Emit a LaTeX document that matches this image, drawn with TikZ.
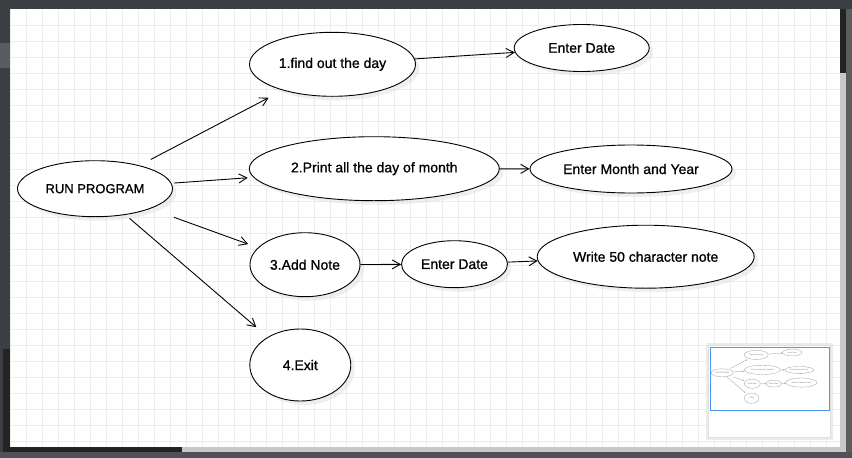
\documentclass[tikz,border=0pt]{standalone}
\usepackage{fontspec}
\setmainfont{Liberation Sans}
\newfontfamily\casefont{Liberation Sans}[FakeBold=0.9]
\usepackage{tikz}
\usetikzlibrary{shapes.geometric, shadows}
\usetikzlibrary{arrows.meta}
\definecolor{uibar}{HTML}{3B3F44}
\definecolor{uidark}{HTML}{232323}
\definecolor{uiscroll}{HTML}{C8C8C8}
\definecolor{uiside}{HTML}{5C5C5C}
\definecolor{gridline}{HTML}{ECECEC}
\definecolor{mapblue}{HTML}{4A96F0}
\tikzstyle{usecase}=[ellipse,draw=black,line width=0.9pt,fill=white,inner sep=0pt,
  font=\casefont\fontsize{14}{16}\selectfont,
  drop shadow={shadow xshift=4pt,shadow yshift=-4pt,fill=black!12}]
\tikzstyle{smallcase}=[font=\casefont\fontsize{13}{15}\selectfont]
\tikzstyle{flowarrow}=[-{Straight Barb[length=8pt,width=9pt]},line width=0.9pt]
% scale of the gaps (1 on the canvas, smaller in the overview)
\def\sk{1}
\newcommand{\usecasediagram}{%
  \node[usecase, smallcase, minimum width=155, minimum height=56] (run) at (95,188.7) {RUN PROGRAM};
  \node[usecase, minimum width=166, minimum height=64] (find) at (332.5,64.3) {1.find out the day};
  \node[usecase, minimum width=135, minimum height=47] (date1) at (581.7,48) {Enter Date};
  \node[usecase, minimum width=250, minimum height=64] (print) at (374.3,168.7) {2.Print all the day of month};
  \node[usecase, minimum width=202, minimum height=48] (monthyear) at (631,169) {Enter Month and Year};
  \node[usecase, minimum width=110, minimum height=64] (note) at (305,264.7) {3.Add Note};
  \node[usecase, minimum width=106, minimum height=47] (date2) at (454.5,264.2) {Enter Date};
  \node[usecase, minimum width=217, minimum height=63] (write) at (645.7,256.7) {Write 50 character note};
  \node[usecase, minimum width=101, minimum height=72] (exit) at (300.3,365) {4.Exit};

  \path[flowarrow]
    (run) edge [shorten <={12.7pt*\sk}, shorten >={16pt*\sk}] (find)
    (run) edge [shorten <={2.3pt*\sk}, shorten >={5.7pt*\sk}] (print)
    (run) edge [shorten <={25pt*\sk}, shorten >={10.3pt*\sk}] (note)
    (run) edge [shorten <={5.3pt*\sk}, shorten >={15pt*\sk}] (exit);

  \path[flowarrow]
    (find) edge (date1)
    (print) edge (monthyear)
    (note) edge (date2)
    (date2) edge (write);
}

\begin{document}
\begin{tikzpicture}[x=1pt,y=-1pt]
  \useasboundingbox (0,0) rectangle (852,458);

  % editor frame
  \fill[uibar] (0,0) rectangle (852,458);
  \fill[uibar!85!white] (0,43) rectangle (10,68);
  \fill[uidark] (3,349) rectangle (10,452);
  \fill[white] (10,9) rectangle (840,447);
  \foreach \gx in {0,...,51}
    \draw[gridline, line width=0.8pt] ({10.7+16*\gx},9) -- ++(0,438);
  \foreach \gy in {1,...,27}
    \draw[gridline, line width=0.8pt] (10,{9+16*\gy}) -- ++(830,0);

  % scroll bars
  \fill[uidark] (840,9) rectangle (846,73);
  \fill[uiscroll] (840,73) rectangle (846,447);
  \fill[uiside] (846,9) rectangle (852,452);
  \fill[uidark] (10,447) rectangle (182,452);
  \fill[uiscroll] (182,447) rectangle (846,452);
  \fill[uibar!90!white] (0,452) rectangle (852,458);

  \usecasediagram

  % overview window
  \fill[black!8] (706,343) rectangle (833,440);
  \fill[black!12] (708,345) rectangle (831,438);
  \fill[white] (709,346) rectangle (830,437);
  \begin{scope}[name prefix=m-, shift={(708.4,345.6)}, scale=0.144, transform shape,
      usecase/.style={ellipse,draw=black!35,line width=0.35pt,fill=white,inner sep=0pt,
        text=black!55,font=\fontsize{13}{15}\selectfont},
      smallcase/.style={},
      flowarrow/.style={-{Straight Barb[length=1.2pt,width=1.3pt]},draw=black!35,line width=0.35pt}]
    \def\sk{0.144}
    \usecasediagram
  \end{scope}
  \draw[mapblue, line width=0.9pt] (710.5,347) rectangle (829,410);
\end{tikzpicture}
\end{document}
